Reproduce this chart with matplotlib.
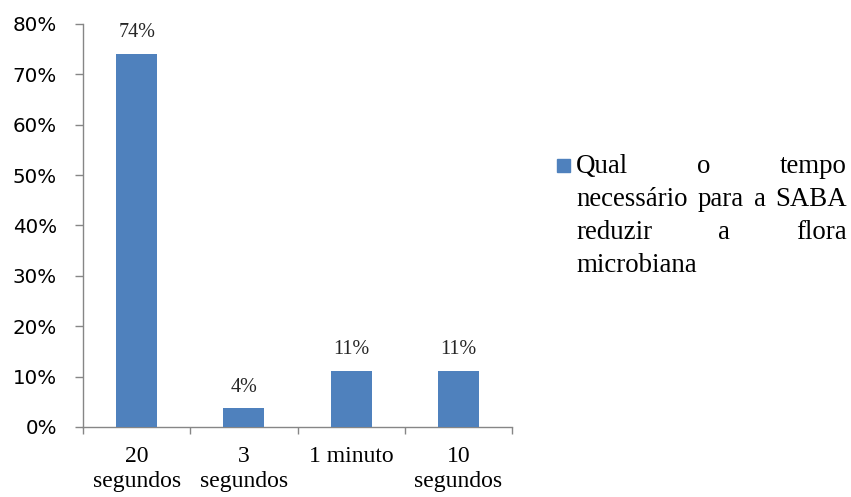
"""plot.py -- tempo necessario para a SABA reduzir a flora microbiana"""

import numpy as np
import matplotlib
matplotlib.use("Agg")
import matplotlib.pyplot as plt
from matplotlib.patches import Rectangle

# data
categories = ["20\nsegundos", "3\nsegundos", "1 minuto", "10\nsegundos"]
values = [74.1, 3.7, 11.1, 11.1]   # percent
y_ticks = [0, 10, 20, 30, 40, 50, 60, 70, 80]
legend_lines = [["Qual", "o", "tempo"],
                ["necessário", "para", "a", "SABA"],
                ["reduzir", "a", "flora"],
                ["microbiana"]]

bar_color = "#4F81BD"
axis_color = "#868686"
serif = "Liberation Serif"

fig = plt.figure(figsize=(8.51, 4.97), dpi=100)
ax = fig.add_axes([83 / 851, 1 - 427 / 497, 429 / 851, 403 / 497])

x = np.arange(len(categories))
ax.bar(x, values, width=0.38, color=bar_color, zorder=3)

# value labels above the bars
for xi, v in zip(x, values):
    ax.annotate("{:.0f}%".format(v), (xi, v), xytext=(0, 12),
                textcoords="offset points", ha="center", va="baseline",
                fontsize=14.5, family=serif, color="#262626")

ax.set_xlim(-0.5, len(categories) - 0.5)
ax.set_ylim(0, 80)

# x axis: ticks between categories, labels centred under bars
ax.set_xticks(np.arange(len(categories) + 1) - 0.5)
ax.set_xticklabels([])
ax.set_xticks(x, minor=True)
ax.set_xticklabels(categories, minor=True, family=serif, fontsize=17,
                   linespacing=1.2, va="top")
ax.tick_params(axis="x", which="major", direction="out", length=5,
               width=1, color=axis_color)
ax.tick_params(axis="x", which="minor", length=0, pad=14)

ax.set_yticks(y_ticks)
ax.set_yticklabels(["{:d}%".format(t) for t in y_ticks], family="DejaVu Sans",
                   fontsize=14.3)
ax.tick_params(axis="y", direction="out", length=5.8, width=1,
               color=axis_color, pad=13)

for side in ["top", "right"]:
    ax.spines[side].set_visible(False)
for side in ["left", "bottom"]:
    ax.spines[side].set_color(axis_color)
    ax.spines[side].set_linewidth(1)

# legend drawn by hand: square marker + justified text block
W, H = 851, 497
fig.patches.append(Rectangle((557 / W, 1 - 172 / H), 13 / W, 13 / H,
                             transform=fig.transFigure, color=bar_color))

x0, x1 = 576, 847
baselines = [173, 206, 239, 272]
renderer = fig.canvas.get_renderer()
for words, yb in zip(legend_lines, baselines):
    texts = [fig.text(0, 1 - yb / H, w, family=serif, fontsize=19.4,
                      va="baseline", ha="left", color="black") for w in words]
    widths = [t.get_window_extent(renderer).width for t in texts]
    if len(words) > 1:
        gap = (x1 - x0 - sum(widths)) / (len(words) - 1)
    else:
        gap = 0
    pos = x0
    for t, w in zip(texts, widths):
        t.set_x(pos / W)
        pos += w + gap

fig.savefig("out.png", dpi=100)
